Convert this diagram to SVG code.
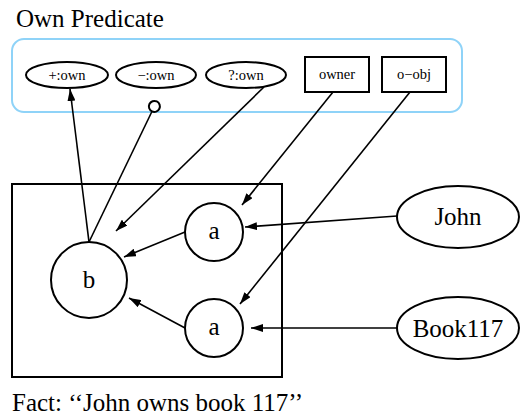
<svg xmlns="http://www.w3.org/2000/svg" width="527" height="419" viewBox="0 0 527 419">
  <style>
    .shape { fill: #fff; stroke: #000; stroke-width: 2; }
    .edge { fill: none; stroke: #000; stroke-width: 1.6; }
    .small { font-family: "Liberation Serif", "Times New Roman", serif; font-size: 14.5px; text-anchor: middle; }
    .big { font-family: "Liberation Serif", "Times New Roman", serif; font-size: 25px; text-anchor: middle; }
    .title { font-family: "Liberation Serif", "Times New Roman", serif; font-size: 25px; }
  </style>
  <defs>
    <marker id="arrow" viewBox="0 0 12 8" refX="12" refY="4" markerWidth="12" markerHeight="8" markerUnits="userSpaceOnUse" orient="auto">
      <path d="M0,0 L12,4 L0,8 z" fill="#000"/>
    </marker>
    <marker id="dot" viewBox="0 0 14 14" refX="13" refY="7" markerWidth="14" markerHeight="14" markerUnits="userSpaceOnUse" orient="auto">
      <circle cx="7" cy="7" r="5.5" fill="#fff" stroke="#000" stroke-width="2"/>
    </marker>
  </defs>

  <rect width="527" height="419" fill="#fff"/>

  <text class="title" x="16" y="27">Own Predicate</text>

  <!-- predicate cluster -->
  <rect id="cluster" x="12" y="39" width="450" height="73" rx="12" fill="none" stroke="#8fd3f8" stroke-width="2"/>

  <g id="plus-own"><ellipse class="shape" cx="67" cy="75" rx="41" ry="13"/><text class="small" x="67" y="80">+:own</text></g>
  <g id="minus-own"><ellipse class="shape" cx="156" cy="75" rx="40" ry="13"/><text class="small" x="156" y="80">−:own</text></g>
  <g id="query-own"><ellipse class="shape" cx="246" cy="75" rx="40" ry="13"/><text class="small" x="246" y="80">?:own</text></g>
  <g id="owner"><rect class="shape" x="305" y="57" width="64" height="35"/><text class="small" x="337" y="79">owner</text></g>
  <g id="o-obj"><rect class="shape" x="382" y="57" width="64" height="35"/><text class="small" x="414" y="79">o−obj</text></g>

  <!-- fact box -->
  <rect id="fact" x="12" y="184" width="270" height="193" fill="none" stroke="#000" stroke-width="2"/>

  <g id="b"><circle class="shape" cx="89" cy="280" r="38"/><text class="big" x="89" y="288">b</text></g>
  <g id="a1"><circle class="shape" cx="214" cy="232" r="29"/><text class="big" x="214" y="239">a</text></g>
  <g id="a2"><circle class="shape" cx="214" cy="328" r="29"/><text class="big" x="214" y="335">a</text></g>
  <g id="john"><ellipse class="shape" cx="458" cy="217" rx="61" ry="31"/><text class="big" x="458" y="225">John</text></g>
  <g id="book"><ellipse class="shape" cx="458" cy="328" rx="61" ry="31"/><text class="big" x="458" y="337">Book117</text></g>

  <g id="edges">
    <line class="edge" x1="89" y1="242" x2="70" y2="89" marker-end="url(#arrow)"/>
    <line class="edge" x1="89" y1="242" x2="157" y2="101" marker-end="url(#dot)"/>
    <line class="edge" x1="264" y1="87" x2="116" y2="231" marker-end="url(#arrow)"/>
    <line class="edge" x1="333" y1="92" x2="242" y2="205" marker-end="url(#arrow)"/>
    <line class="edge" x1="410" y1="92" x2="240" y2="304" marker-end="url(#arrow)"/>
    <line class="edge" x1="397" y1="216" x2="245" y2="227" marker-end="url(#arrow)"/>
    <line class="edge" x1="397" y1="328" x2="251" y2="328" marker-end="url(#arrow)"/>
    <line class="edge" x1="185" y1="232" x2="124" y2="257" marker-end="url(#arrow)"/>
    <line class="edge" x1="185" y1="328" x2="129" y2="298" marker-end="url(#arrow)"/>
  </g>

  <text class="title" x="12" y="411">Fact: ‘‘John owns book 117’’</text>
</svg>
